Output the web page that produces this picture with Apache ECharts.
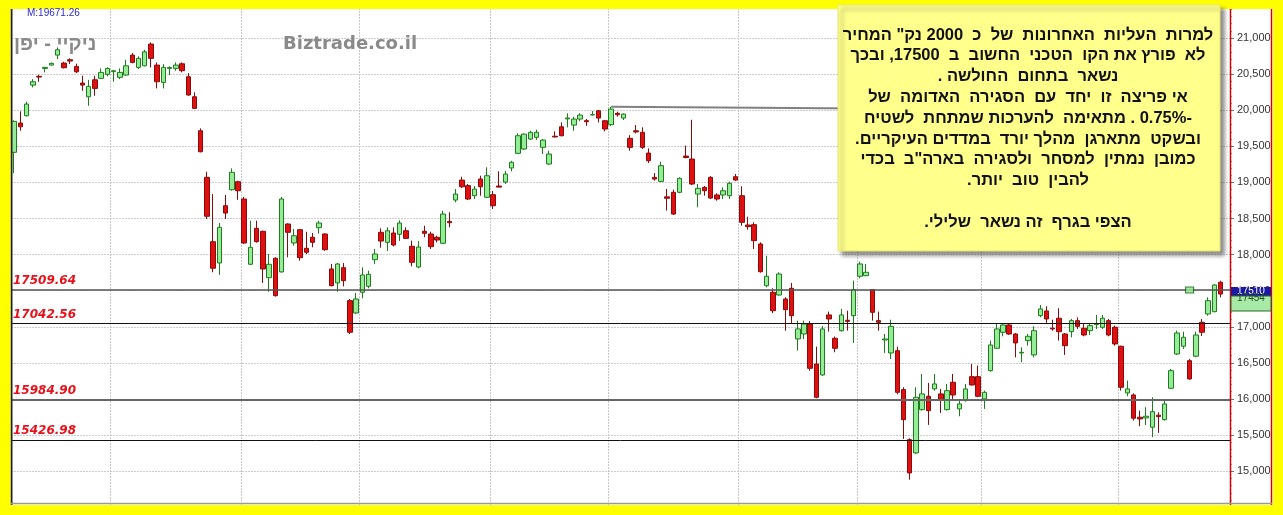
<!DOCTYPE html>
<html><head><meta charset="utf-8">
<script src="https://cdn.jsdelivr.net/npm/echarts@6/dist/echarts.min.js"></script>
<style>html,body{margin:0;padding:0;background:#ffff00;overflow:hidden}#c{width:1283px;height:515px}</style>
</head><body><div id="c"></div>
<script>
// ---- data ----
const openP = [19417,19823,19924,20349,20470,20580,20626,20764,20654,20700,20608,20377,20187,20422,20442,20497,20535,20456,20488,20764,
20594,20616,20917,20626,20386,20580,20580,20644,20464,20187,19716,19071,18179,17884,18677,18899,19010,18770,17866,18364,
18323,17680,17949,17760,18424,18161,18345,18087,18240,18373,18285,17801,17607,17819,17362,17191,17478,17561,17930,18309,
18170,18299,18281,18331,18115,17828,18323,18285,18240,18157,18460,18756,19033,18955,18816,19047,18794,18830,18950,19005,
19200,19403,19463,19601,19625,19486,19255,19640,19771,19880,19795,19878,19856,19935,19993,19855,19800,19957,19892,19611,
19715,19694,19407,19070,19015,18800,18863,18863,19365,19324,18839,18932,19070,18826,18826,18816,19079,18816,18410,18415,
18147,17569,17478,17440,17385,17533,16831,16900,17039,16484,16333,17164,16840,16946,17090,17154,17700,17708,17514,17085,
16817,16637,16669,16129,15436,15252,15852,16037,16139,16070,15852,16231,15862,15977,16309,16309,16000,16392,16702,16924,
17025,16900,16637,16808,16610,17154,17219,16980,17118,16900,16932,17085,16979,16946,17030,16993,17085,16993,16730,16083,
16055,15747,15737,15608,15775,15713,16148,16623,16730,16530,16592,17062,17177,17209,17617];
const closeP = [19846,19771,20086,20395,20460,20594,20650,20838,20589,20682,20533,20349,20331,20303,20525,20580,20548,20525,20616,20663,
20719,20810,20719,20395,20594,20594,20626,20548,20211,20026,19425,18531,17811,18378,18576,19140,18885,18161,18101,18179,
17801,17866,17431,18770,18309,18262,17957,18032,18170,18438,18068,17569,17870,17639,16924,17385,17718,17727,18008,18188,
18331,18133,18438,18225,17893,18105,18295,18110,18202,18562,18442,18839,18940,18770,18908,18940,19093,18677,18935,19116,
19279,19647,19670,19694,19694,19587,19393,19630,19647,19893,19878,19933,19841,19940,19892,19740,20017,19938,19947,19486,
19700,19486,19301,19047,19232,18780,18562,19057,19345,18978,18918,18885,18784,18770,18885,18988,19033,18447,18387,18193,
17763,17700,17223,17731,17237,17154,16970,17039,16425,16023,16970,17108,16702,17164,17075,17514,17870,17755,17200,17062,
16831,17006,16092,15713,14975,16023,16070,15838,16208,15991,16115,16055,15931,16139,16194,16037,16092,16748,16970,17025,
16900,16776,16646,16868,16946,17247,17108,16970,16932,16738,17085,17006,16886,17016,17040,17118,16886,16762,16162,16139,
15733,15723,15760,15824,15755,15931,16392,16914,16854,16277,16886,16924,17362,17579,17454];
const lowP = [19130,19716,19915,20317,20395,20525,20620,20709,20580,20640,20515,20270,20062,20201,20432,20470,20395,20432,20478,20650,
20571,20608,20594,20303,20303,20488,20548,20525,20201,20017,19417,18493,17755,17718,18493,18885,18760,18147,17856,18165,
17607,17486,17418,17750,17963,18124,17916,18008,18101,18290,18053,17560,17486,17560,16900,17177,17395,17533,17870,18096,
18050,18115,18188,18216,17838,17810,18240,18078,18170,18147,18378,18724,18922,18756,18770,18816,18784,18632,18932,18978,
19154,19393,19450,19590,19590,19393,19245,19625,19638,19763,19716,19850,19785,19930,19832,19708,19780,19910,19864,19439,
19680,19463,19269,19024,19001,18610,18549,18850,19335,18964,18655,18816,18770,18747,18770,18770,19024,18400,18345,18078,
17750,17546,17191,17431,16946,17053,16669,16831,16392,16009,16320,16932,16647,16932,16946,16776,17672,17700,17085,16946,
16637,16554,16064,15446,14882,15238,15838,15640,16115,15806,15838,16000,15760,15963,16185,16023,15862,16378,16693,16868,
16886,16577,16508,16738,16577,17131,17053,16946,16808,16610,16854,16970,16868,16886,16970,16970,16868,16738,16115,16037,
15700,15622,15640,15470,15530,15700,16139,16610,16693,16268,16577,16872,17154,17200,17408];
const highP = [19860,19985,20118,20432,20492,20600,20660,20871,20672,20719,20644,20478,20422,20478,20580,20594,20552,20580,20700,20792,
20747,20838,20940,20663,20640,20608,20663,20663,20515,20248,19749,19148,18839,18438,18826,19195,19024,18798,18470,18470,
18331,18008,17963,18798,18433,18355,18355,18317,18299,18470,18299,17870,17884,17884,17385,17468,17824,17777,18078,18364,
18378,18378,18475,18378,18193,18188,18400,18317,18262,18608,18586,18909,19079,18978,18950,19093,19210,18881,19154,19160,
19300,19680,19680,19716,19730,19601,19440,19708,19832,19957,19910,19960,19878,19990,20003,19864,20049,19980,19957,19656,
19795,19763,19472,19130,19287,18909,18899,19070,19510,19868,18978,18950,19088,18850,18932,19010,19116,18946,18525,18447,
18170,17985,17533,17755,17408,17607,17085,17085,17080,16725,17010,17210,16865,17247,17223,17639,17902,17870,17524,17210,
16900,17098,16725,16162,15455,16162,16346,16222,16346,16139,16208,16346,16000,16208,16485,16462,16115,16808,17039,17039,
17039,16914,16716,16900,17006,17302,17284,17098,17256,16914,17108,17131,17039,17039,17164,17164,17108,17016,16738,16254,
16078,15838,15885,16023,15815,15977,16415,16946,16932,16554,16932,17108,17408,17593,17639];
const levelValues = [17509.64, 17042.56, 15984.90, 15426.98];
const resistanceLine = [[96, 20049], [194, 19988]];
const markerPoint = [189, 17509.64];
const monthStarts = [16, 37, 56, 77, 96, 117, 136, 156, 178];
const yTickMin = 14500, yTickMax = 21500, yTickStep = 500;
const noteLines = [
 'למרות  העליות  האחרונות  של  כ  2000 נק" המחיר',
 'לא  פורץ את הקו  הטכני  החשוב  ב  17500, ובכך',
 'נשאר  בתחום  החולשה .',
 'אי פריצה  זו  יחד  עם  הסגירה  האדומה  של',
 '-0.75% . מתאימה  להערכות שמתחת  לשטיח',
 'ובשקט  מתארגן  מהלך יורד  במדדים העיקריים.',
 'כמובן  נמתין  למסחר  ולסגירה  בארה"ב  בכדי',
 'להבין  טוב  יותר.',
 '',
 'הצפי בגרף  זה נשאר  שלילי.'
];
const titleText = 'ניקיי - יפן';
const siteText = 'Biztrade.co.il';
const maxText = 'M:19671.26';

// ---- chart ----
const categories = openP.map((_, i) => String(i + 1)).concat(['']);
const candles = openP.map((o, i) => [o, closeP[i], lowP[i], highP[i]]);
const chart = echarts.init(document.getElementById('c'), null, {renderer: 'canvas'});
const RLE = '\u202B', PDF = '\u202C';

const levelColors = ['#555', '#111', '#666', '#111'];
const levelWidths = [1.5, 1, 2, 1];

const graphic = [];
graphic.push({type:'line', shape:{x1:1230.5,y1:9,x2:1230.5,y2:505}, style:{stroke:'#d40000', lineWidth:1.5}, z:50});
graphic.push({type:'line', shape:{x1:1271.5,y1:9,x2:1271.5,y2:505}, style:{stroke:'#d40000', lineWidth:1.5}, z:50});
graphic.push({type:'line', shape:{x1:11.5,y1:9,x2:11.5,y2:505}, style:{stroke:'#222', lineWidth:2}, z:50});
graphic.push({type:'line', shape:{x1:11,y1:503.5,x2:1272,y2:503.5}, style:{stroke:'#999', lineWidth:1.5}, z:50});
graphic.push({type:'rect', shape:{x:0,y:0,width:1283,height:9}, style:{fill:'#ffff00'}, z:60});
graphic.push({type:'rect', shape:{x:0,y:0,width:10.5,height:515}, style:{fill:'#ffff00'}, z:60});
graphic.push({type:'rect', shape:{x:0,y:505,width:1283,height:10}, style:{fill:'#ffff00'}, z:60});
graphic.push({type:'rect', shape:{x:1273,y:0,width:10,height:515}, style:{fill:'#ffff00'}, z:60});
graphic.push({type:'text', x:27, y:13, style:{text:maxText, fill:'#2a2ad0', font:'10px "Liberation Sans"', textVerticalAlign:'middle'}, z:70});
graphic.push({type:'text', x:14, y:44, style:{text:RLE+titleText+PDF, fill:'#8a8a8a', font:'bold 20px "Liberation Sans"', textVerticalAlign:'middle'}, z:55});
graphic.push({type:'text', x:283, y:44, style:{text:siteText, fill:'#8a8a8a', font:'bold 18px "DejaVu Sans"', textVerticalAlign:'middle'}, z:55});
graphic.push({type:'rect', shape:{x:838,y:5,width:382,height:246}, style:{fill:'#ffff8c', stroke:'#e8e870', lineWidth:1, shadowBlur:4, shadowOffsetX:4, shadowOffsetY:4, shadowColor:'rgba(0,0,0,0.45)'}, z:80});
noteLines.forEach((t, i) => {
  if (!t) return;
  graphic.push({type:'text', x:1028, y:35 + i*20.8, style:{text:RLE+t+PDF, fill:'#111', font:'bold 16.5px "Liberation Sans"', textAlign:'center', textVerticalAlign:'middle'}, z:81});
});

const option = {
  animation: false,
  backgroundColor: '#ffffff',
  grid: {left: 11, right: 53, top: 2.0, bottom: 7.8},
  xAxis: {
    type: 'category', data: categories, boundaryGap: true,
    axisLine: {show:false}, axisTick: {show:false}, axisLabel: {show:false},
    splitLine: {show:true, interval: (idx) => monthStarts.indexOf(idx) >= 0,
      lineStyle: {color:'#c8c8c8', type:[2,1], width:1}}
  },
  yAxis: {
    type: 'value', position: 'right', scale: true,
    min: yTickMin, max: yTickMax, interval: yTickStep,
    axisLine: {show:false},
    axisTick: {show:true, length:4, lineStyle:{color:'#777'}},
    minorTick: {show:true, splitNumber:5, length:2, lineStyle:{color:'#aaa'}},
    axisLabel: {color:'#333', fontSize:11, fontFamily:'Liberation Sans', margin:7, showMinLabel:false, showMaxLabel:false},
    splitLine: {show:true, lineStyle:{color:'#cccccc', type:[2,1], width:1}}
  },
  series: [{
    type: 'candlestick', data: candles, barWidth: 5,
    itemStyle: {color:'#96ec96', color0:'#e01010', borderColor:'#1d7d1d', borderColor0:'#8b0a0a', borderWidth:1},
    markLine: {
      symbol: 'none', silent: true, animation:false,
      data: levelValues.map((v, i) => ({
        yAxis: v,
        lineStyle: {color: levelColors[i], width: levelWidths[i], type:'solid'},
        label: {show:true, position:'insideStartTop', distance:[2,3], formatter: () => v.toFixed(2),
          color:'#e8101a', fontStyle:'italic', fontWeight:'bold', fontFamily:'DejaVu Sans', fontSize:12}
      })).concat([[
        {coord:[categories[resistanceLine[0][0]], resistanceLine[0][1]], lineStyle:{color:'#808080', width:2, type:'solid'}, label:{show:false}},
        {coord:[categories[resistanceLine[1][0]], resistanceLine[1][1]]}
      ]])
    }
  }, {
    type: 'scatter', data: [[categories[markerPoint[0]], markerPoint[1]]],
    symbol: 'rect', symbolSize: [8, 6],
    itemStyle: {color:'#90e890', borderColor:'#1d5d1d', borderWidth:1}, z: 5
  }],
  graphic: graphic
};
chart.setOption(option);

const yLevel = chart.convertToPixel({yAxisIndex:0}, levelValues[0]);
chart.setOption({graphic: graphic.concat([
  {type:'rect', shape:{x:1231,y:yLevel-3,width:40,height:9}, style:{fill:'#1a1aa0'}, z:65},
  {type:'text', x:1251, y:yLevel+1.5, style:{text:String(Math.round(levelValues[0])), fill:'#fff', font:'10px "Liberation Sans"', textAlign:'center', textVerticalAlign:'middle'}, z:66},
  {type:'rect', shape:{x:1231,y:yLevel+6,width:40,height:15}, style:{fill:'#a6eaa6', stroke:'#2a6a2a', lineWidth:1}, z:67},
  {type:'text', x:1251, y:yLevel+8, style:{text:String(Math.round(closeP[closeP.length-1])), fill:'#2a4a2a', font:'10px "Liberation Sans"', textAlign:'center', textVerticalAlign:'middle'}, z:68}
])});
</script>
</body></html>
